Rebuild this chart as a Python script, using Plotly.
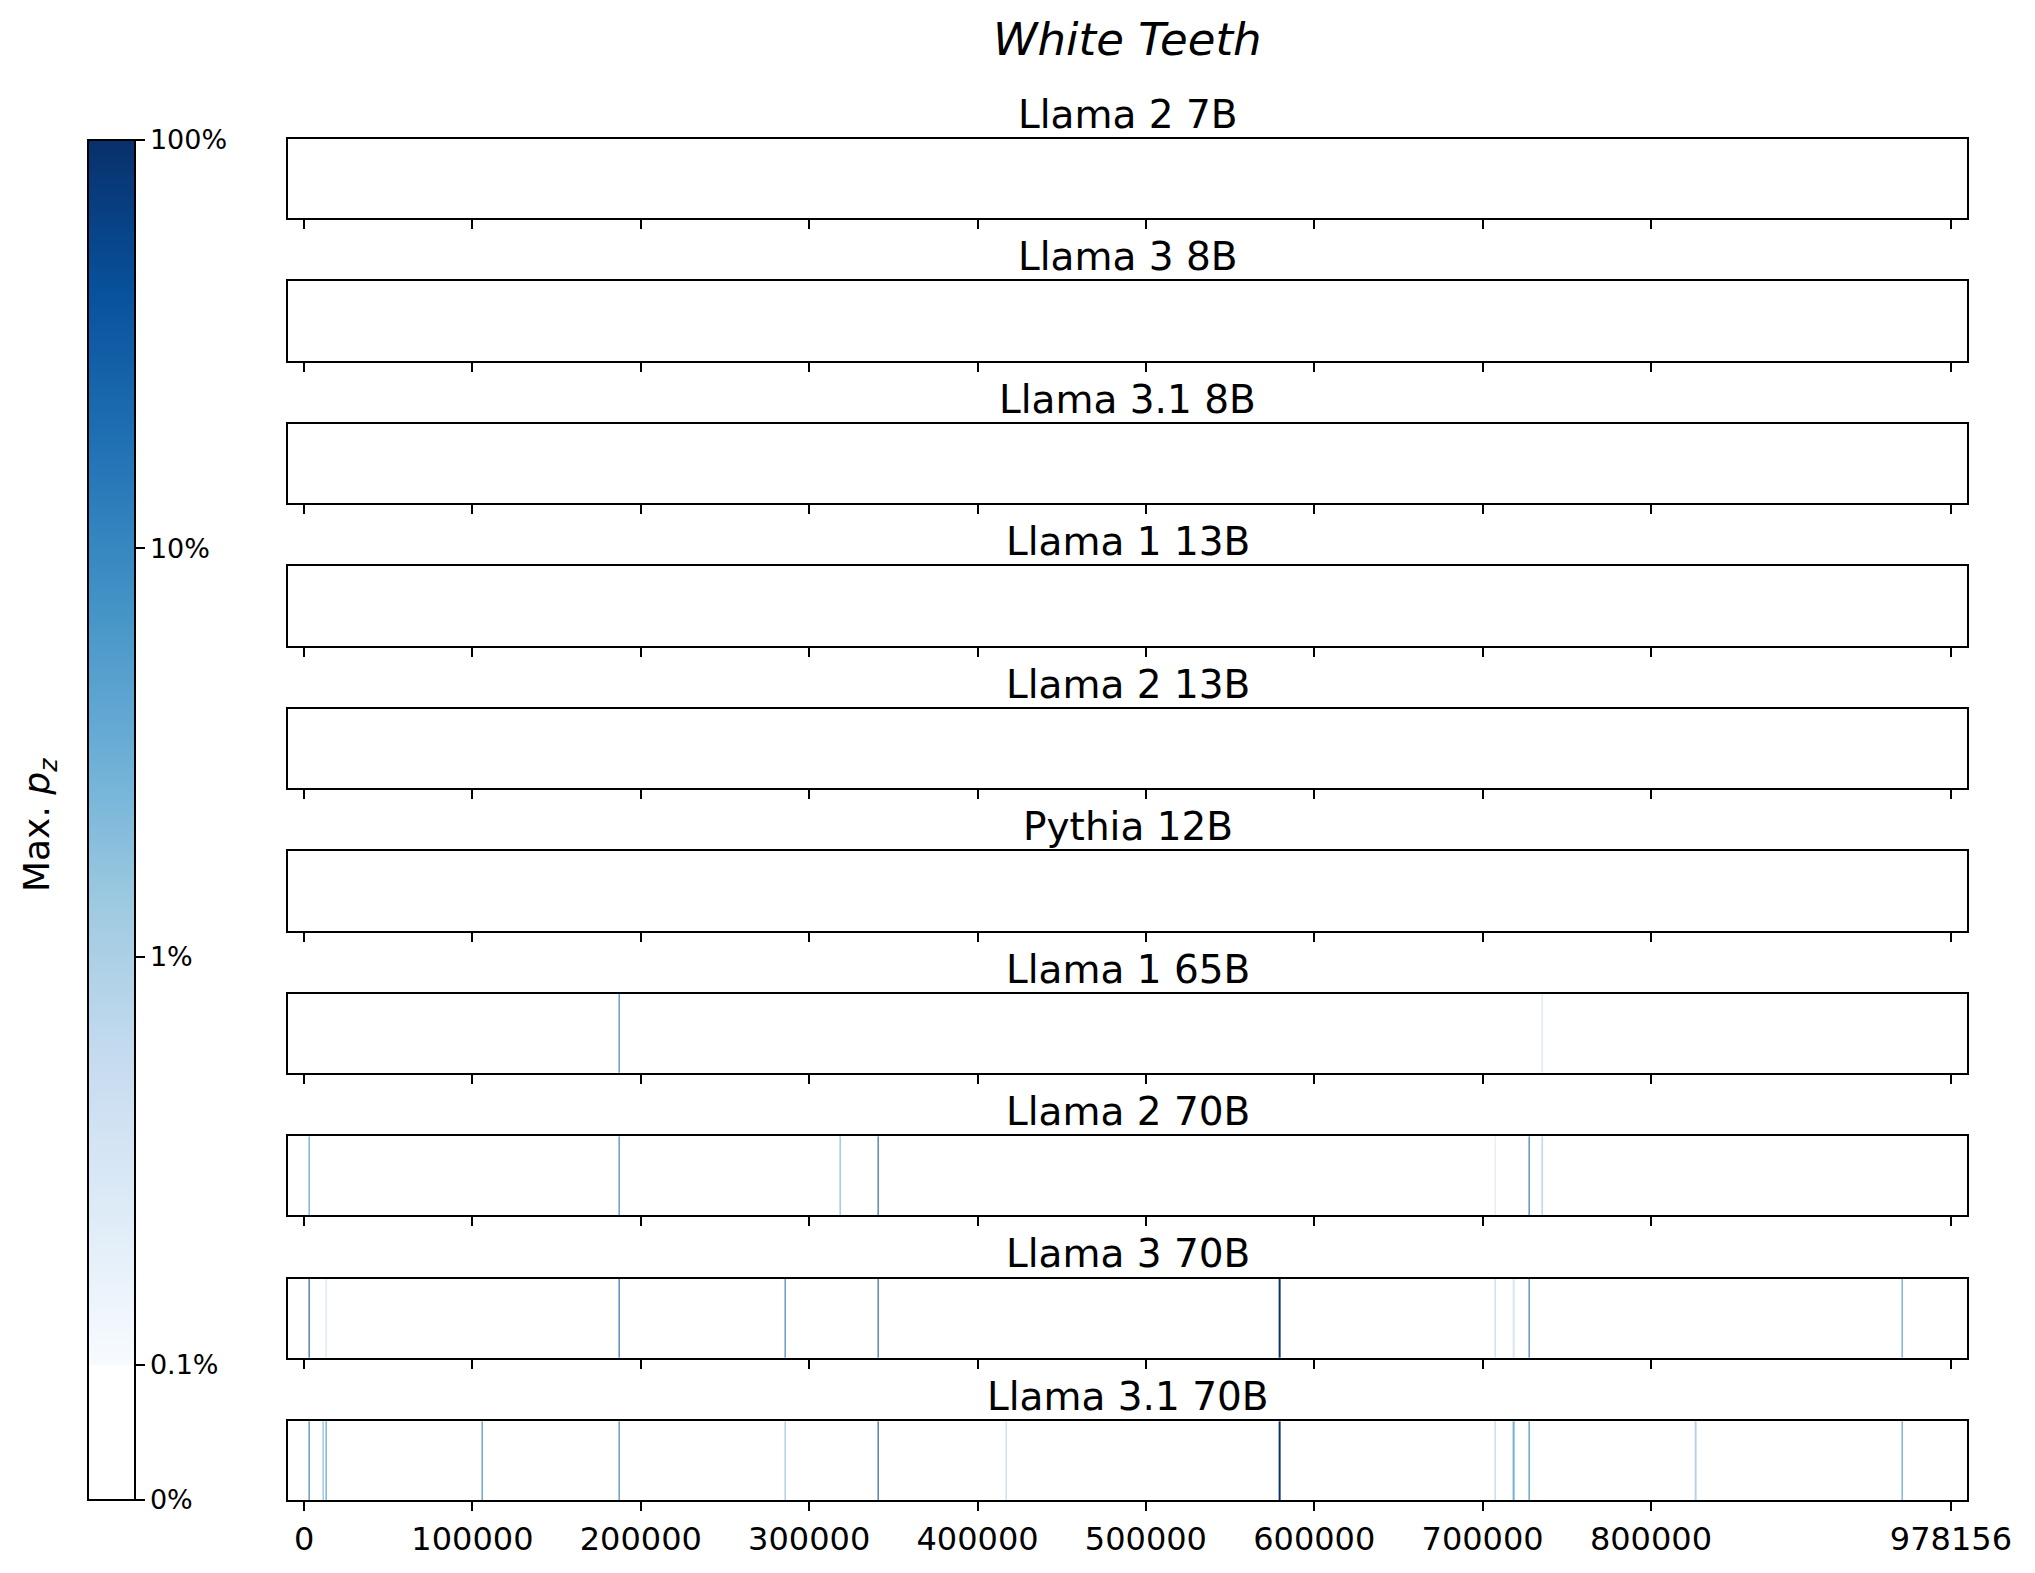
import numpy as np
import plotly.graph_objects as go

# ---------------- data ----------------
title = "White Teeth"
models = ["Llama 2 7B", "Llama 3 8B", "Llama 3.1 8B", "Llama 1 13B", "Llama 2 13B",
          "Pythia 12B", "Llama 1 65B", "Llama 2 70B", "Llama 3 70B", "Llama 3.1 70B"]
text_length = 978156

# positions (token offsets) and max p_z (in percent) of extracted spans
llama2_7b_pos, llama2_7b_val = [], []
llama3_8b_pos, llama3_8b_val = [], []
llama31_8b_pos, llama31_8b_val = [], []
llama1_13b_pos, llama1_13b_val = [], []
llama2_13b_pos, llama2_13b_val = [], []
pythia_12b_pos, pythia_12b_val = [], []
llama1_65b_pos = [186900, 735600]
llama1_65b_val = [20.0, 0.4]
llama2_70b_pos = [2850, 186900, 318500, 341000, 707300, 727800, 735600]
llama2_70b_val = [8.0, 20.0, 3.0, 50.0, 0.3, 30.0, 1.5]
llama3_70b_pos = [2850, 12820, 186900, 285600, 341000, 579400, 707300, 718400, 727800, 949200]
llama3_70b_val = [60.0, 0.4, 40.0, 20.0, 50.0, 90.0, 0.8, 0.3, 25.0, 8.0]
llama31_70b_pos = [2850, 11570, 12820, 105800, 186900, 285600, 341000, 416900,
                   579400, 707300, 718400, 727800, 826500, 949200]
llama31_70b_val = [20.0, 3.0, 8.0, 15.0, 20.0, 2.0, 60.0, 0.8,
                   90.0, 1.0, 3.0, 15.0, 0.8, 8.0]

positions = [llama2_7b_pos, llama3_8b_pos, llama31_8b_pos, llama1_13b_pos, llama2_13b_pos,
             pythia_12b_pos, llama1_65b_pos, llama2_70b_pos, llama3_70b_pos, llama31_70b_pos]
values = [llama2_7b_val, llama3_8b_val, llama31_8b_val, llama1_13b_val, llama2_13b_val,
          pythia_12b_val, llama1_65b_val, llama2_70b_val, llama3_70b_val, llama31_70b_val]

x_tickvals = [0, 100000, 200000, 300000, 400000, 500000, 600000, 700000, 800000, 978156]
x_ticktext = [str(v) for v in x_tickvals]
cb_tick_pct = [0, 0.1, 1, 10, 100]
cb_ticktext = ["0%", "0.1%", "1%", "10%", "100%"]

# ---------------- scale (symlog-like) ----------------
T0 = 0.0993  # fraction of the colour axis used by the linear 0..0.1% part


def norm(pct):
    p = pct / 100.0
    if p <= 0.001:
        return p / 0.001 * T0
    return T0 + (np.log10(p) + 3) / 3 * (1 - T0)


blues = ['rgb(247,251,255)', 'rgb(222,235,247)', 'rgb(198,219,239)', 'rgb(158,202,225)',
         'rgb(107,174,214)', 'rgb(66,146,198)', 'rgb(33,113,181)', 'rgb(8,81,156)',
         'rgb(8,48,107)']
colorscale = [[0, 'rgb(255,255,255)'], [T0, 'rgb(255,255,255)']]
for k, c in enumerate(blues):
    colorscale.append([T0 + k / 8 * (1 - T0), c])

# ---------------- layout geometry ----------------
W, H = 2035, 1573
XMIN = -0.01 * text_length
XMAX = 1.01 * text_length
x_dom = [287.6 / W, 1967.4 / W]
top0, step, hgt = 138.9, 142.47, 79.3
HALF = 320  # half width of a one-position cell in data units

fig = go.Figure()
FONT = "DejaVu Sans"

for i, (name, pos, val) in enumerate(zip(models, positions, values)):
    edges = [XMIN]
    z = [0.0]
    for p, v in sorted(zip(pos, val)):
        edges += [p - HALF, p + HALF]
        z += [norm(v), 0.0]
    edges.append(XMAX)
    ax = "" if i == 0 else str(i + 1)
    fig.add_trace(go.Heatmap(
        x=edges, y=[0, 1], z=[z], coloraxis="coloraxis",
        xaxis="x" + ax, yaxis="y" + ax, hoverinfo="skip"))
    top = top0 + i * step
    bot = top + hgt
    last = (i == len(models) - 1)
    fig.update_layout(**{
        "xaxis" + ax: dict(domain=x_dom, range=[XMIN, XMAX], anchor="y" + ax,
                           tickmode="array", tickvals=x_tickvals, ticktext=x_ticktext,
                           showticklabels=last, ticks="outside", ticklen=9, tickwidth=2,
                           tickcolor="black", showline=True, mirror=True,
                           linecolor="black", linewidth=2, showgrid=False, automargin=False,
                           zeroline=False, tickfont=dict(size=32, color="black", family=FONT)),
        "yaxis" + ax: dict(domain=[1 - bot / H, 1 - top / H], range=[0, 1], anchor="x" + ax,
                           showticklabels=False, ticks="", showline=True, mirror=True,
                           linecolor="black", linewidth=2, showgrid=False, zeroline=False,
                           automargin=False),
    })
    fig.add_annotation(text=name, x=(x_dom[0] + x_dom[1]) / 2, y=1 - (top - 24.7) / H,
                       xref="paper", yref="paper", xanchor="center", yanchor="middle",
                       showarrow=False, font=dict(size=39, color="black", family=FONT))

fig.add_annotation(text="<i>" + title + "</i>", x=(x_dom[0] + x_dom[1]) / 2, y=1 - 39 / H,
                   xref="paper", yref="paper", xanchor="center", yanchor="middle",
                   showarrow=False, font=dict(size=45, color="black", family=FONT))
fig.add_annotation(text="Max. <i>p</i><sub><i>z</i></sub>", x=39 / W, y=1 - 825 / H,
                   xref="paper", yref="paper", xanchor="center", yanchor="middle",
                   textangle=-90, showarrow=False,
                   font=dict(size=36, color="black", family=FONT))

fig.update_layout(
    width=W, height=H, margin=dict(l=0, r=0, t=0, b=0, autoexpand=False),
    paper_bgcolor="white", plot_bgcolor="white", showlegend=False,
    font=dict(family=FONT, color="black"),
    coloraxis=dict(
        colorscale=colorscale, cmin=0, cmax=1,
        colorbar=dict(
            x=88 / W, xanchor="left", xref="paper",
            y=1 - 140 / H, yanchor="top", yref="paper",
            len=(1500 - 140) / H, lenmode="fraction",
            thickness=47, thicknessmode="pixels",
            outlinewidth=2, outlinecolor="black",
            xpad=0, ypad=0,
            tickmode="array", tickvals=[norm(v) for v in cb_tick_pct],
            ticktext=cb_ticktext,
            ticks="outside", ticklen=9, tickwidth=2, tickcolor="black",
            tickfont=dict(size=27, color="black", family=FONT),
        ),
    ),
)

fig.write_html("out.html")
